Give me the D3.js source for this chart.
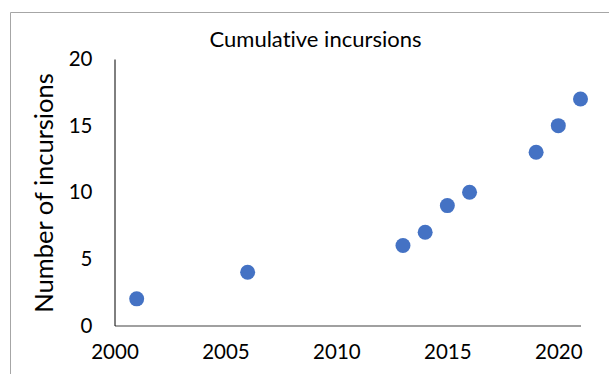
<!DOCTYPE html>
<html lang="en">
<head>
<meta charset="UTF-8">
<title>Cumulative incursions</title>
<style>
  body { margin: 0; background: #fff; }
  text { font-family: Lato, "Open Sans", sans-serif; fill: #000; font-variant-ligatures: none; }
</style>
<script src="https://cdn.jsdelivr.net/npm/d3@7"></script>
</head>
<body>
<script>
// data
const years = [2001, 2006, 2013, 2014, 2015, 2016, 2019, 2020, 2021];
const incursions = [2, 4, 6, 7, 9, 10, 13, 15, 17];
const xTicks = [2000, 2005, 2010, 2015, 2020];
const yTicks = [0, 5, 10, 15, 20];

const width = 609, height = 374;

const svg = d3.select("body").append("svg")
  .attr("width", width)
  .attr("height", height);

// chart frame (cropped on right and bottom)
svg.append("path")
  .attr("d", "M10.5," + height + "V12.5H" + width)
  .attr("fill", "none")
  .attr("stroke", "#a6a6a6")
  .attr("stroke-width", 1);

const x = d3.scaleLinear().domain([2000, 2021]).range([114.5, 580.5]);
const y = d3.scaleLinear().domain([0, 20]).range([325.5, 59]);

// x axis
const gx = svg.append("g").attr("transform", "translate(0," + y(0) + ")")
  .call(d3.axisBottom(x).tickValues(xTicks).tickFormat(d3.format("d")).tickSize(0).tickPadding(19));
gx.select(".domain").attr("stroke", "#808080").attr("stroke-width", 1.5);
gx.selectAll("text").attr("font-size", 20.5).style("font-family", "Lato, sans-serif");

// y axis
const gy = svg.append("g").attr("transform", "translate(" + x(2000) + ",0)")
  .call(d3.axisLeft(y).tickValues(yTicks).tickSize(0).tickPadding(22));
gy.select(".domain").attr("stroke", "#000").attr("stroke-width", 1);
gy.selectAll("text").attr("font-size", 20.5).style("font-family", "Lato, sans-serif");

// points
svg.selectAll(".dot")
  .data(years)
  .join("circle")
  .attr("class", "dot")
  .attr("cx", (d) => x(d))
  .attr("cy", (d, i) => y(incursions[i]))
  .attr("r", 7.5)
  .attr("fill", "#4472c4");

// title
svg.append("text")
  .attr("x", 315.5)
  .attr("y", 47)
  .attr("text-anchor", "middle")
  .attr("font-size", 22)
  .text("Cumulative incursions");

// y label
svg.append("text")
  .attr("transform", "translate(53,193) rotate(-90)")
  .attr("text-anchor", "middle")
  .attr("font-size", 25.5)
  .text("Number of incursions");
</script>
</body>
</html>
